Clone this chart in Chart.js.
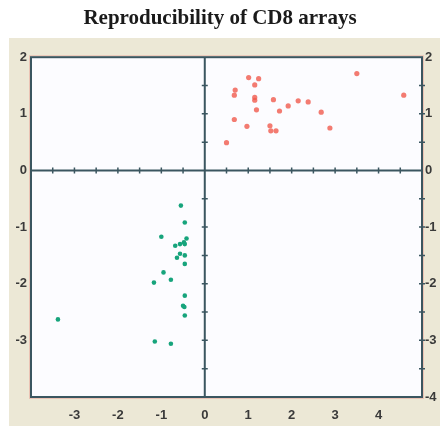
<!DOCTYPE html>
<html>

<head>
  <meta charset="utf-8">
  <title>Reproducibility of CD8 arrays</title>
  <script src="https://cdn.jsdelivr.net/npm/chart.js@4.4.1/dist/chart.umd.min.js"></script>
  <style>
    html,
    body {
      margin: 0;
      padding: 0;
      background: #fff;
    }

    canvas {
      display: block;
    }
  </style>
</head>

<body>
  <canvas id="chartJSContainer" width="440" height="426"></canvas>
  <script>
    // data (x, y) in log-ratio units
    var redX = [1.01, 1.24, 1.15, 0.70, 0.68, 1.15, 1.15, 1.58, 1.19, 1.72, 1.92, 2.15, 2.38, 2.68, 0.68, 0.97, 1.50, 1.52, 1.64, 2.88, 0.50, 3.50, 4.58];
    var redY = [1.64, 1.62, 1.51, 1.42, 1.33, 1.29, 1.24, 1.25, 1.07, 1.05, 1.14, 1.23, 1.21, 1.03, 0.90, 0.78, 0.79, 0.70, 0.70, 0.75, 0.49, 1.71, 1.33];
    var greenX = [-0.55, -0.46, -1.00, -0.42, -0.48, -0.57, -0.46, -0.68, -0.57, -0.46, -0.64, -0.46, -0.95, -0.78, -1.17, -0.46, -0.50, -0.47, -0.46, -3.38, -1.15, -0.78];
    var greenY = [-0.62, -0.92, -1.17, -1.20, -1.27, -1.30, -1.30, -1.33, -1.47, -1.50, -1.54, -1.65, -1.80, -1.93, -1.98, -2.21, -2.39, -2.41, -2.56, -2.63, -3.02, -3.06];

    var xTicks = [-3, -2, -1, 0, 1, 2, 3, 4];
    var yTicksLeft = [2, 1, 0, -1, -2, -3];
    var yTicksRight = [2, 1, 0, -1, -2, -3, -4];

    function pts(xs, ys) {
      return xs.map(function(x, i) { return { x: x, y: ys[i] }; });
    }

    var axisColor = '#3b5660';

    var framePlugin = {
      id: 'frame',
      beforeDraw: function(chart) {
        var c = chart.ctx, a = chart.chartArea;
        c.save();
        c.fillStyle = '#ffffff';
        c.fillRect(0, 0, chart.width, chart.height);
        c.fillStyle = '#ece8d6';
        c.fillRect(9, 38, chart.width - 9, chart.height - 38);
        c.fillStyle = '#fcfcff';
        c.fillRect(a.left, a.top, a.right - a.left, a.bottom - a.top);
        c.restore();
      },
      beforeDatasetsDraw: function(chart) {
        var c = chart.ctx, a = chart.chartArea;
        var xs = chart.scales.x, ys = chart.scales.y;
        var x0 = xs.getPixelForValue(0), y0 = ys.getPixelForValue(0);
        c.save();
        // faint pink halo
        c.strokeStyle = 'rgba(235,150,140,0.45)';
        c.lineWidth = 1;
        c.strokeRect(a.left - 1.5, a.top - 1.5, a.right - a.left + 3, a.bottom - a.top + 3);
        c.strokeStyle = axisColor;
        c.lineWidth = 2;
        c.strokeRect(a.left, a.top, a.right - a.left, a.bottom - a.top);
        c.beginPath();
        c.moveTo(x0, a.top); c.lineTo(x0, a.bottom);
        c.moveTo(a.left, y0); c.lineTo(a.right, y0);
        c.stroke();
        // tick marks every 0.5
        c.lineWidth = 1.5;
        c.beginPath();
        for (var v = -3.5; v <= 4.5; v += 0.5) {
          if (v === 0) continue;
          var px = xs.getPixelForValue(v);
          c.moveTo(px, y0 - 3); c.lineTo(px, y0 + 3);
        }
        for (var w = -3.5; w <= 1.5; w += 0.5) {
          if (w === 0) continue;
          var py = ys.getPixelForValue(w);
          c.moveTo(x0 - 3, py); c.lineTo(x0 + 3, py);
          c.moveTo(a.right - 3, py); c.lineTo(a.right + 3, py);
        }
        c.stroke();
        c.restore();
      }
    };

    var tickFont = { family: 'Liberation Sans, Arial, sans-serif', size: 13, weight: 'bold' };

    var options = {
      type: 'scatter',
      data: {
        datasets: [{
          label: 'up',
          data: pts(redX, redY),
          backgroundColor: 'rgba(240,90,78,0.8)',
          borderWidth: 0,
          pointRadius: 2.6
        }, {
          label: 'down',
          data: pts(greenX, greenY),
          backgroundColor: '#17a47c',
          borderWidth: 0,
          pointRadius: 2.3
        }]
      },
      options: {
        responsive: false,
        animation: false,
        layout: { padding: 0 },
        plugins: {
          legend: { display: false },
          tooltip: { enabled: false },
          title: {
            display: true,
            text: 'Reproducibility of CD8 arrays',
            color: '#1a1a1a',
            font: { family: 'Liberation Serif, Times New Roman, serif', size: 21, weight: 'bold', lineHeight: 1.2 },
            padding: { top: 6, bottom: 26 }
          }
        },
        scales: {
          x: {
            type: 'linear',
            min: -4,
            max: 5,
            grid: { display: false, drawTicks: false },
            border: { display: false },
            ticks: { font: tickFont, color: '#3a3a3a', padding: 11 },
            afterBuildTicks: function(s) { s.ticks = xTicks.map(function(v) { return { value: v }; }); },
            afterFit: function(s) { s.height = 29; }
          },
          y: {
            type: 'linear',
            position: 'left',
            min: -4,
            max: 2,
            grid: { display: false, drawTicks: false },
            border: { display: false },
            ticks: { font: tickFont, color: '#3a3a3a', padding: 4 },
            afterBuildTicks: function(s) { s.ticks = yTicksLeft.map(function(v) { return { value: v }; }); },
            afterFit: function(s) { s.width = 31; }
          },
          y2: {
            type: 'linear',
            axis: 'y',
            position: 'right',
            min: -4,
            max: 2,
            grid: { display: false, drawTicks: false },
            border: { display: false },
            ticks: { font: tickFont, color: '#3a3a3a', padding: 3 },
            afterBuildTicks: function(s) { s.ticks = yTicksRight.map(function(v) { return { value: v }; }); },
            afterFit: function(s) { s.width = 18; }
          }
        }
      },
      plugins: [framePlugin]
    };

    var ctx = document.getElementById('chartJSContainer').getContext('2d');
    window.test = new Chart(ctx, options);
  </script>
</body>

</html>
